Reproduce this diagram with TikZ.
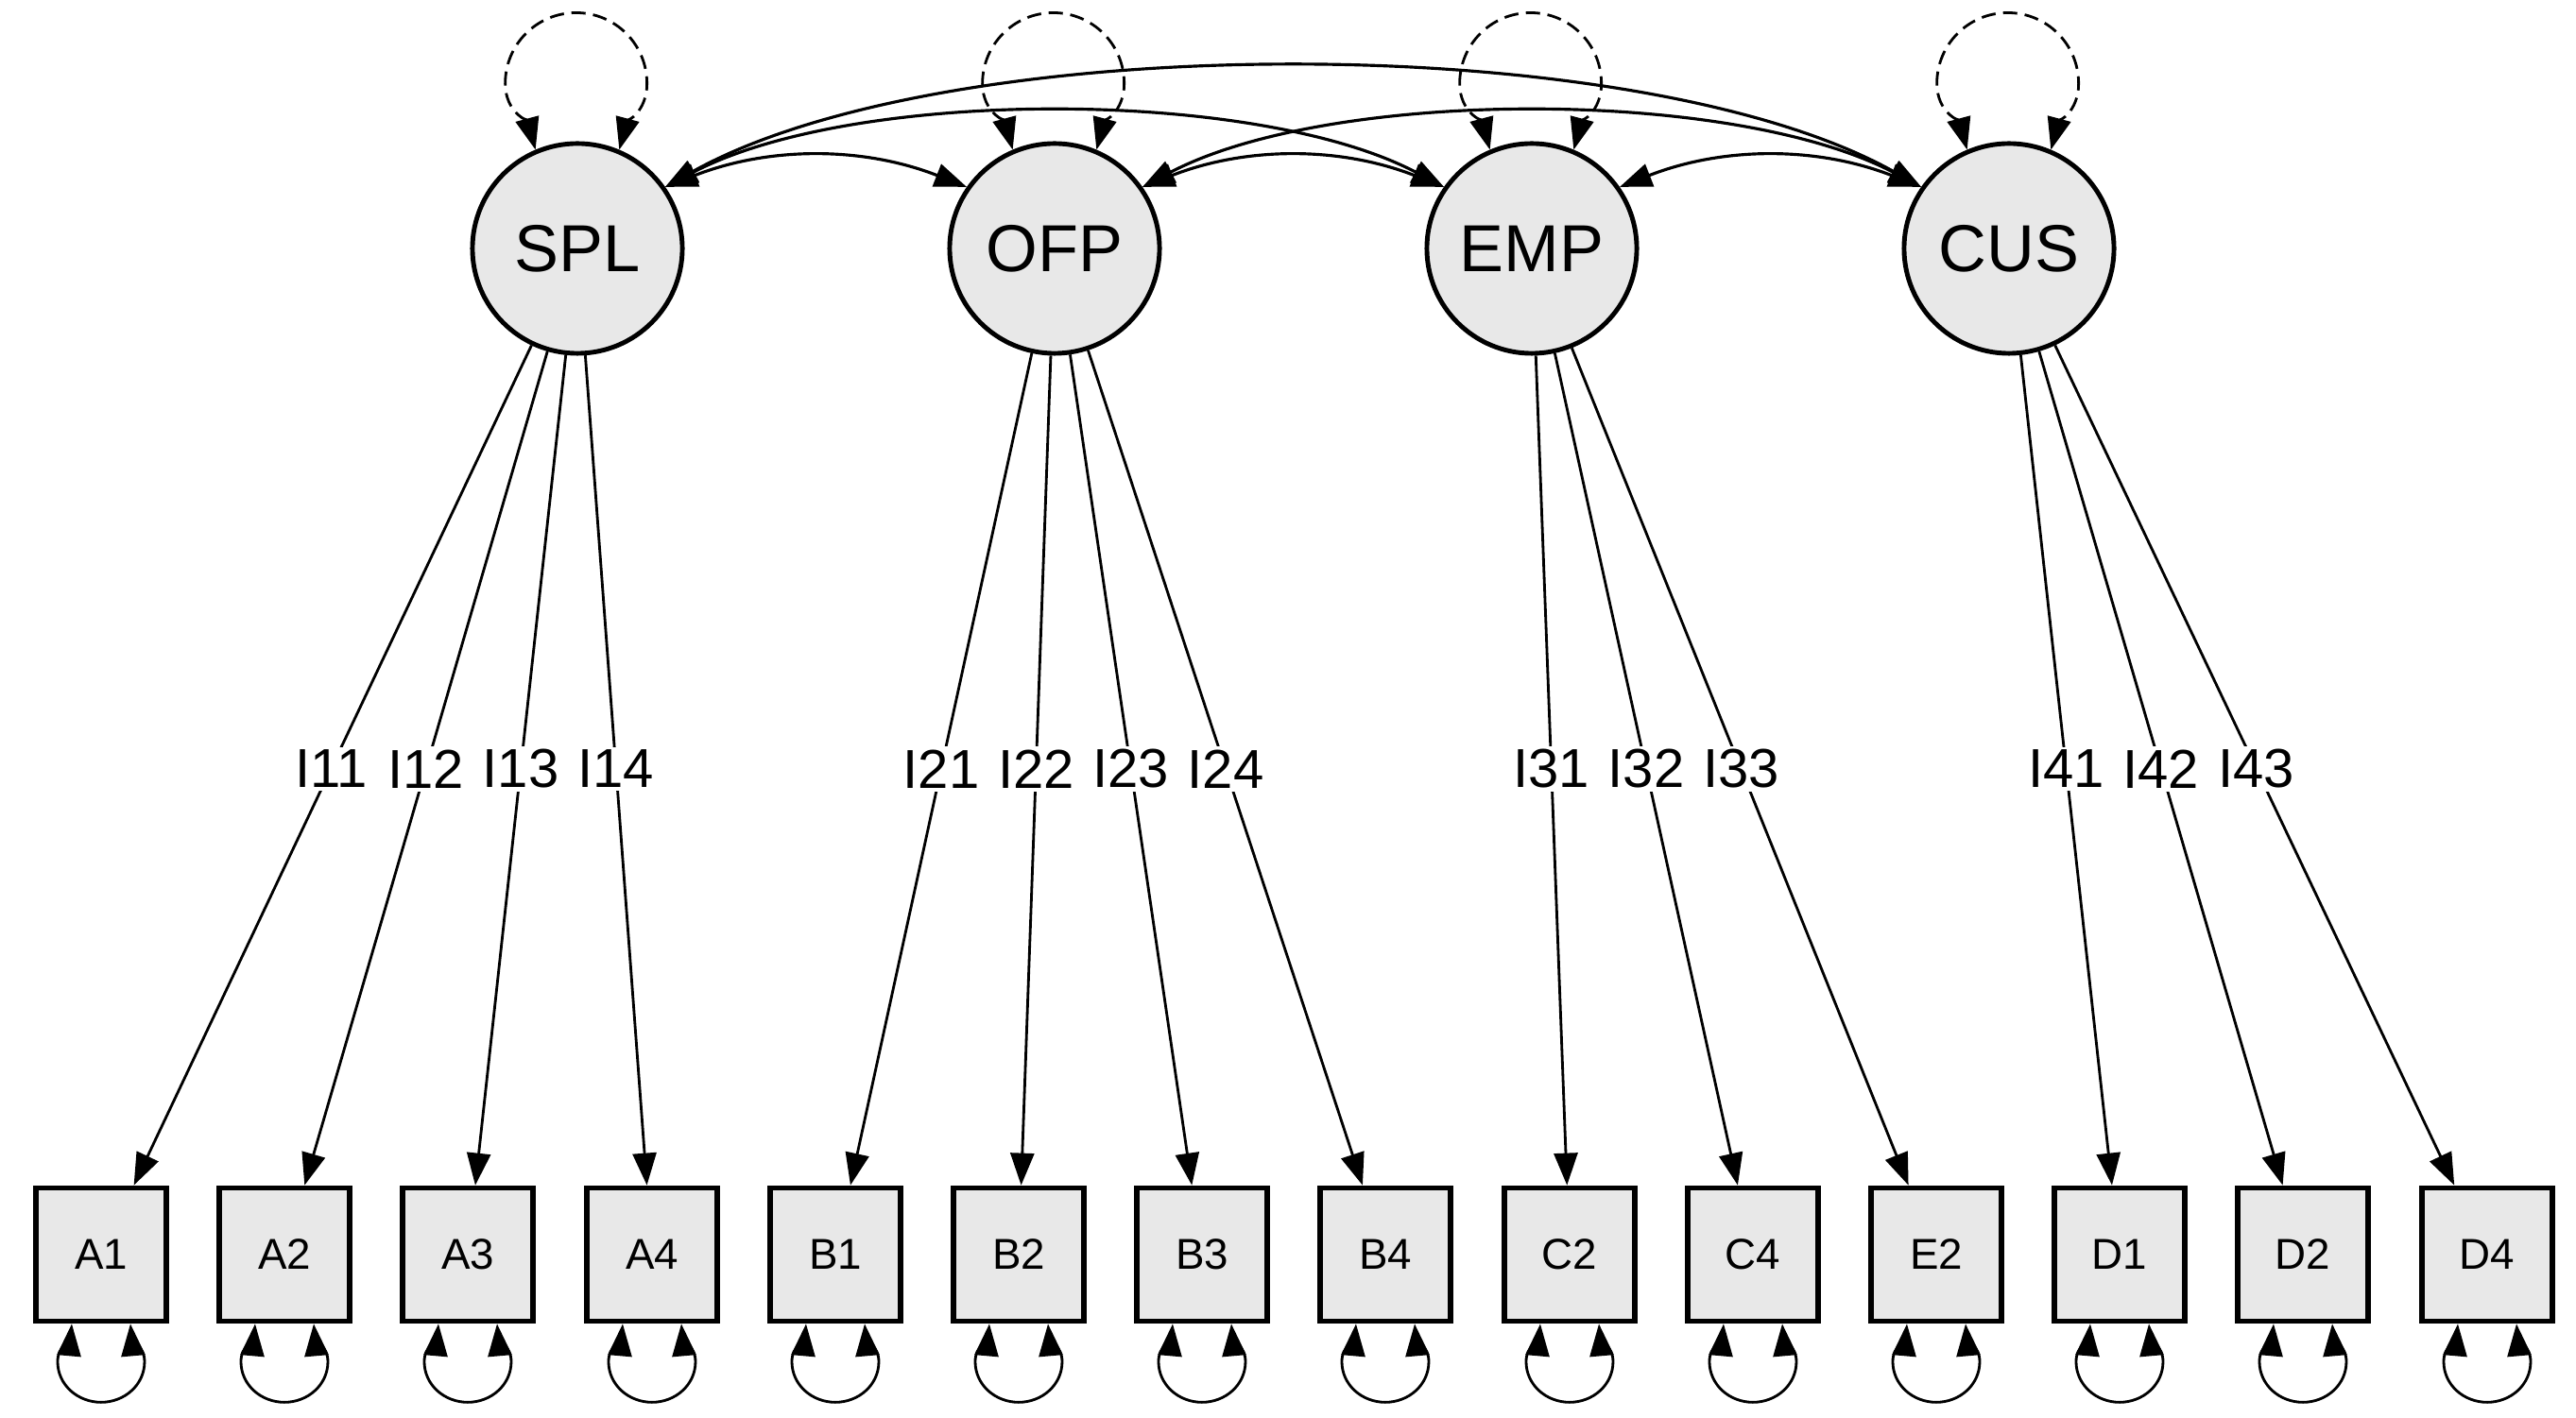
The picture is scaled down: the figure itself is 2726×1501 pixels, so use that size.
\documentclass[tikz,border=0pt]{standalone}
\usepackage{fontspec}
\setmainfont{Liberation Sans}
\usetikzlibrary{arrows.meta,calc}
\definecolor{fillg}{RGB}{232,232,232}
\begin{document}
\begin{tikzpicture}[x=0.01cm,y=0.01cm,
  >={Triangle[length=0.34cm,width=0.25cm]},
  latent/.style={circle,draw,line width=1.4pt,fill=fillg,minimum size=2.22cm,inner sep=0pt,font=\fontsize{20}{24}\selectfont},
  manifest/.style={rectangle,draw,line width=1.6pt,fill=fillg,minimum width=1.38cm,minimum height=1.41cm,inner sep=0pt,font=\fontsize{13}{15}\selectfont},
  load/.style={->,line width=0.8pt},
  cov/.style={<->,line width=0.9pt},
  var/.style={<->,line width=0.8pt,dash pattern=on 0.15cm off 0.08cm},
  err/.style={<->,line width=0.8pt},
  lab/.style={fill=white,inner sep=1pt,font=\fontsize{16.5}{18}\selectfont}
]
\useasboundingbox (0,0) rectangle (2726,-1501);

% latent variables
\node[latent] (SPL) at (611,-263) {SPL};
\node[latent] (OFP) at (1116,-263) {OFP};
\node[latent] (EMP) at (1621,-263) {EMP};
\node[latent] (CUS) at (2126,-263) {CUS};

% manifest variables
\foreach \n/\x in {A1/107,A2/301,A3/495,A4/690,B1/884,B2/1078,B3/1272,B4/1466,C2/1661,C4/1855,E2/2049,D1/2243,D2/2437,D4/2632}
  \node[manifest] (\n) at (\x,-1328) {\n};

% loadings
\foreach \s/\t/\l in {SPL/A1/I11,SPL/A2/I12,SPL/A3/I13,SPL/A4/I14,
                      OFP/B1/I21,OFP/B2/I22,OFP/B3/I23,OFP/B4/I24,
                      EMP/C2/I31,EMP/C4/I32,EMP/E2/I33,
                      CUS/D1/I41,CUS/D2/I42,CUS/D4/I43}{
  \draw[load] (\s) -- (\t);
  \node[lab] (L\l) at ($(\s)!0.5174!(\t)$) {\l};
}

% error variances
\foreach \n in {A1,A2,A3,A4,B1,B2,B3,B4,C2,C4,E2,D1,D2,D4}
  \draw[err] ([xshift=-0.31cm]\n.south) to[out=-95,in=90] ++(-15,-40) to[out=-90,in=180] ++(46,-43)
     to[out=0,in=-90] ++(46,43) to[out=90,in=-85] ([xshift=0.31cm]\n.south);

% latent variances
\foreach \n in {SPL,OFP,EMP,CUS}
  \draw[var] (\n.113) to[out=105,in=-90] ++(-32,70) to[out=90,in=180] ++(75,75)
     to[out=0,in=90] ++(75,-75) to[out=-90,in=75] (\n.67);

% covariances
\draw[cov] (SPL.35) .. controls +(110,43) and +(-110,43) .. (OFP.145);
\draw[cov] (OFP.35) .. controls +(110,43) and +(-110,43) .. (EMP.145);
\draw[cov] (EMP.35) .. controls +(110,43) and +(-110,43) .. (CUS.145);
\draw[cov] (SPL.35) .. controls +(200,105) and +(-200,105) .. (EMP.145);
\draw[cov] (OFP.35) .. controls +(200,105) and +(-200,105) .. (CUS.145);
\draw[cov] (SPL.35) .. controls +(300,168) and +(-300,168) .. (CUS.145);
\end{tikzpicture}
\end{document}
